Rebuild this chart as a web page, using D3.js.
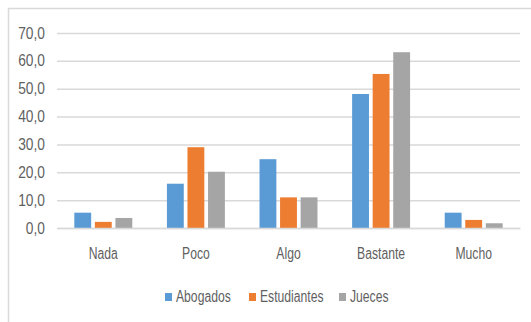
<!DOCTYPE html>
<html>
<head>
<meta charset="utf-8">
<script src="https://cdn.jsdelivr.net/npm/d3@7/dist/d3.min.js"></script>
<style>
  html, body { margin: 0; padding: 0; background: #fff; }
  svg text { font-family: "Liberation Sans", Arial, sans-serif; fill: #5f5f5f; }
</style>
</head>
<body>
<svg id="chart" width="531" height="322"></svg>
<script>
// Grouped bar chart: degree of agreement by respondent group
const categories = ["Nada", "Poco", "Algo", "Bastante", "Mucho"];
const seriesNames = ["Abogados", "Estudiantes", "Jueces"];
const abogados    = [5.5, 15.9, 24.7, 48.1, 5.5];
const estudiantes = [2.2, 29.0, 11.0, 55.3, 2.9];
const jueces      = [3.6, 20.2, 11.0, 63.1, 1.7];
const yTicks = [0, 10, 20, 30, 40, 50, 60, 70];
const colors = ["#5B9BD5", "#ED7D31", "#A5A5A5"];

const seriesValues = [abogados, estudiantes, jueces];

// horizontal squeeze giving a condensed look to the labels
const NARROW_NUM = 0.86;
const NARROW_TXT = 0.76;
const FONT_SIZE = 16;

const svg = d3.select("#chart");

// chart frame
svg.append("rect")
  .attr("x", 8.5).attr("y", 8.5)
  .attr("width", 540).attr("height", 330)
  .attr("fill", "#fff")
  .attr("stroke", "#D9D9D9")
  .attr("stroke-width", 1.5);

const plot = { left: 57, right: 520, top: 33, bottom: 228 };

const x0 = d3.scaleBand()
  .domain(categories)
  .range([plot.left, plot.right])
  .paddingInner(0.374)
  .paddingOuter(0.187);

const x1 = d3.scaleBand()
  .domain(seriesNames)
  .range([0, x0.bandwidth()])
  .paddingInner(0.18);

const y = d3.scaleLinear()
  .domain([0, 70])
  .range([plot.bottom, plot.top]);

// horizontal gridlines and value labels
const yAxis = d3.axisLeft(y)
  .tickValues(yTicks)
  .tickSize(-(plot.right - plot.left))
  .tickPadding(14)
  .tickFormat(d => d3.format(".1f")(d).replace(".", ","));

const gy = svg.append("g")
  .attr("transform", `translate(${plot.left},0)`)
  .call(yAxis);
gy.select(".domain").remove();
gy.selectAll(".tick line")
  .attr("stroke", "#D9D9D9")
  .attr("stroke-width", 1.5);
gy.selectAll(".tick text")
  .attr("font-size", FONT_SIZE)
  .attr("fill", "#5f5f5f")
  .attr("transform", `scale(${NARROW_NUM},1)`);

// bars
const groups = svg.append("g")
  .selectAll("g")
  .data(categories)
  .join("g")
  .attr("transform", d => `translate(${x0(d)},0)`);

groups.selectAll("rect")
  .data((c, i) => seriesNames.map((s, k) => ({ series: s, value: seriesValues[k][i], color: colors[k] })))
  .join("rect")
  .attr("x", d => x1(d.series))
  .attr("width", x1.bandwidth())
  .attr("y", d => y(d.value))
  .attr("height", d => y(0) - y(d.value))
  .attr("fill", d => d.color);

// category axis
const xAxis = d3.axisBottom(x0).tickSize(0).tickPadding(20);
const gx = svg.append("g")
  .attr("transform", `translate(0,${plot.bottom})`)
  .call(xAxis);
gx.select(".domain").attr("stroke", "#D9D9D9").attr("stroke-width", 1.5);
gx.selectAll(".tick text")
  .attr("font-size", FONT_SIZE)
  .attr("fill", "#5f5f5f")
  .attr("transform", `scale(${NARROW_TXT},1)`);

// legend
const legendX = [165, 249, 339];
const legend = svg.append("g")
  .selectAll("g")
  .data(seriesNames)
  .join("g")
  .attr("transform", (d, i) => `translate(${legendX[i]},293)`);
legend.append("rect")
  .attr("width", 7).attr("height", 8)
  .attr("fill", (d, i) => colors[i]);
legend.append("text")
  .attr("transform", `translate(11,9) scale(${NARROW_TXT},1)`)
  .attr("font-size", FONT_SIZE)
  .text(d => d);
</script>
</body>
</html>
